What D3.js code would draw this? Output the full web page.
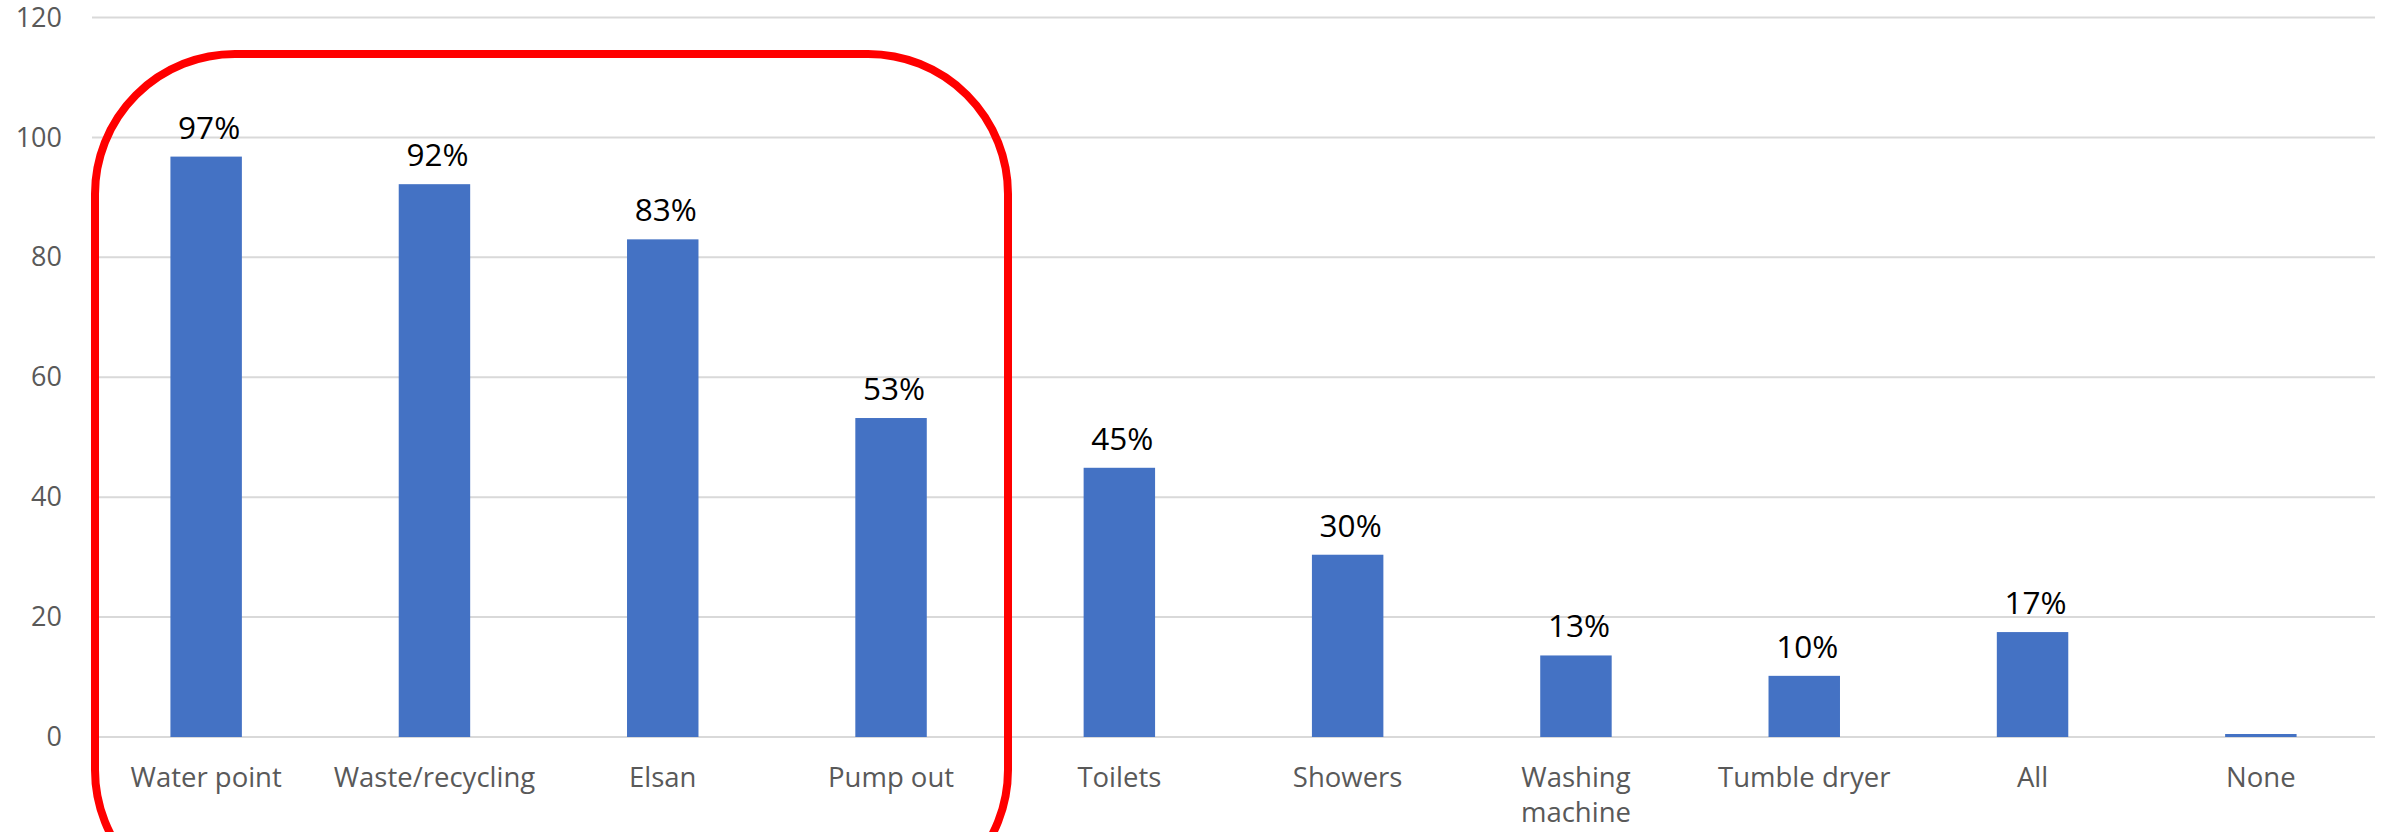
<!DOCTYPE html>
<html>
<head>
<meta charset="utf-8">
<script src="https://cdn.jsdelivr.net/npm/d3@7"></script>
<style>
    body { margin: 0; background: #fff; }
    svg { display: block; font-family: "Open Sans", sans-serif; }
</style>
</head>
<body>
<svg id="svg_graph"></svg>
<script>
// chart values
const categories = ["Water point", "Waste/recycling", "Elsan", "Pump out", "Toilets",
    "Showers", "Washing machine", "Tumble dryer", "All", "None"];
const values = [96.8, 92.2, 83.0, 53.2, 44.9, 30.4, 13.6, 10.2, 17.5, 0.5];
const pctLabels = ["97%", "92%", "83%", "53%", "45%", "30%", "13%", "10%", "17%", ""];
const yTicks = [0, 20, 40, 60, 80, 100, 120];

var width = 2390;
var height = 832;
var margin = {top: 17.5, right: 15, bottom: 95, left: 92};
var font = "'Open Sans', sans-serif";

const svg = d3.select("#svg_graph")
    .attr("width", width)
    .attr("height", height);

var x = d3.scaleBand()
    .domain(categories)
    .range([margin.left, width - margin.right])
    .padding(0);

var y = d3.scaleLinear()
    .domain([0, 120])
    .range([height - margin.bottom, margin.top]);

var barW = x.bandwidth() * 0.313;

// gridlines
svg.append("g")
    .selectAll("line")
    .data(yTicks)
    .join("line")
    .attr("x1", margin.left)
    .attr("x2", width - margin.right)
    .attr("y1", d => y(d))
    .attr("y2", d => y(d))
    .attr("stroke", "#d9d9d9")
    .attr("stroke-width", 2);

// y axis labels
const yAxis = svg.append("g")
    .attr("transform", `translate(${margin.left - 30},0)`)
    .call(d3.axisLeft(y).tickValues(yTicks).tickSize(0).tickPadding(0));
yAxis.select(".domain").remove();
yAxis.selectAll("text")
    .attr("fill", "#595959")
    .style("font-size", "27px")
    .style("font-family", font);

// bars
svg.append("g")
    .selectAll("rect")
    .data(values)
    .join("rect")
    .attr("x", (d, i) => x(categories[i]) + x.bandwidth() / 2 - barW / 2)
    .attr("y", d => y(d))
    .attr("width", barW)
    .attr("height", d => y(0) - y(d))
    .attr("fill", "#4472c4");

// value labels
svg.append("g")
    .attr("text-anchor", "middle")
    .style("font-size", "31.5px")
    .selectAll("text")
    .data(values)
    .join("text")
    .attr("x", (d, i) => x(categories[i]) + x.bandwidth() / 2 + 3)
    .attr("y", d => y(d) - 18)
    .attr("fill", "#000")
    .text((d, i) => pctLabels[i]);

// category labels, wrapped like excel does
const xAxis = svg.append("g")
    .attr("transform", `translate(0,${y(0)})`)
    .call(d3.axisBottom(x).tickSize(0).tickPadding(0));
xAxis.select(".domain").remove();
xAxis.selectAll("text")
    .attr("fill", "#595959")
    .attr("dy", null)
    .attr("y", 50)
    .style("font-size", "27.5px")
    .style("font-family", font)
    .each(function(d) {
        var t = d3.select(this);
        if (this.getComputedTextLength() < 200 || d.indexOf(" ") < 0) return;
        var words = d.split(" ");
        t.text(null);
        words.forEach(function(w, i) {
            t.append("tspan")
                .attr("x", 0)
                .attr("dy", i === 0 ? 0 : 35)
                .text(w);
        });
    });

// red highlight round the first four bars
svg.append("rect")
    .attr("x", 95)
    .attr("y", 54)
    .attr("width", 913)
    .attr("height", 856)
    .attr("rx", 140)
    .attr("ry", 140)
    .attr("fill", "none")
    .attr("stroke", "#ff0000")
    .attr("stroke-width", 8);
</script>
</body>
</html>
